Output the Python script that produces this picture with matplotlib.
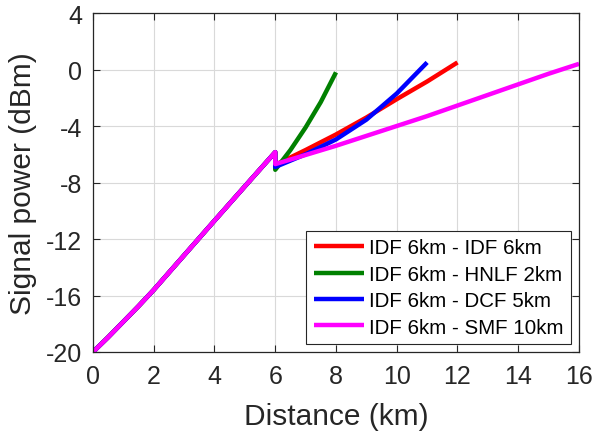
import matplotlib
matplotlib.use("Agg")
import matplotlib.pyplot as plt
import numpy as np

plt.rcParams['font.family'] = ['Liberation Sans', 'DejaVu Sans']
plt.rcParams['axes.unicode_minus'] = False

# First span: IDF 6 km (shared by all configurations)
x_idf1 = [0, 0.5, 1, 1.5, 2, 3, 4, 5, 6]
p_idf1 = [-20, -18.95, -17.85, -16.75, -15.6, -13.15, -10.7, -8.27, -5.85]

# Second span for each configuration
x_idf2 = [6, 7, 8, 9, 10, 11, 12]
p_idf2 = [-6.75, -5.7, -4.6, -3.4, -2.1, -0.85, 0.5]

x_hnlf = [6, 6.5, 7, 7.5, 8]
p_hnlf = [-7.1, -5.7, -4.1, -2.3, -0.2]

x_dcf = [6, 7, 8, 9, 10, 11]
p_dcf = [-6.9, -6.0, -4.95, -3.55, -1.7, 0.5]

x_smf = [6, 7, 8, 9, 10, 11, 12, 13, 14, 15, 16]
p_smf = [-6.7, -6.05, -5.4, -4.7, -4.0, -3.3, -2.55, -1.8, -1.05, -0.3, 0.4]

labels = ['IDF 6km - IDF 6km', 'IDF 6km - HNLF 2km',
          'IDF 6km - DCF 5km', 'IDF 6km - SMF 10km']
colors = ['#ff0000', '#008000', '#0000ff', '#ff00ff']

xticks = np.arange(0, 17, 2)
yticks = np.arange(-20, 5, 4)

fig = plt.figure(figsize=(5.95, 4.39), dpi=100)
ax = fig.add_axes([0.1563, 0.1959, 0.8168, 0.7722])

seconds = [(x_idf2, p_idf2), (x_hnlf, p_hnlf), (x_dcf, p_dcf), (x_smf, p_smf)]
for (xs, ps), c, lab in zip(seconds, colors, labels):
    xx = x_idf1 + xs
    pp = p_idf1 + ps
    ax.plot(xx, pp, color=c, lw=3.2, label=lab, solid_capstyle='butt')

ax.set_xlim(0, 16)
ax.set_ylim(-20, 4)
ax.set_xticks(xticks)
ax.set_yticks(yticks)
ax.grid(True, color='#d9d9d9', lw=0.8)
ax.set_axisbelow(True)
ax.tick_params(direction='in', top=True, right=True, labelsize=18,
               colors='#262626', length=5, width=0.8)
ax.tick_params(axis='x', pad=9)
ax.tick_params(axis='y', pad=8)
for s in ax.spines.values():
    s.set_color('#262626')
    s.set_linewidth(0.9)

ax.set_xlabel('Distance (km)', fontsize=21.5, color='#262626', labelpad=10)
ax.set_ylabel('Signal power (dBm)', fontsize=21.5, color='#262626', labelpad=6)

leg = ax.legend(loc='lower right', fontsize=14.8, frameon=True, fancybox=False,
                edgecolor='#262626', framealpha=1, handlelength=2.45,
                borderaxespad=0.4, borderpad=0.35, labelspacing=0.36,
                handletextpad=0.25)
leg.get_frame().set_linewidth(0.8)

fig.savefig('out.png', dpi=100)
